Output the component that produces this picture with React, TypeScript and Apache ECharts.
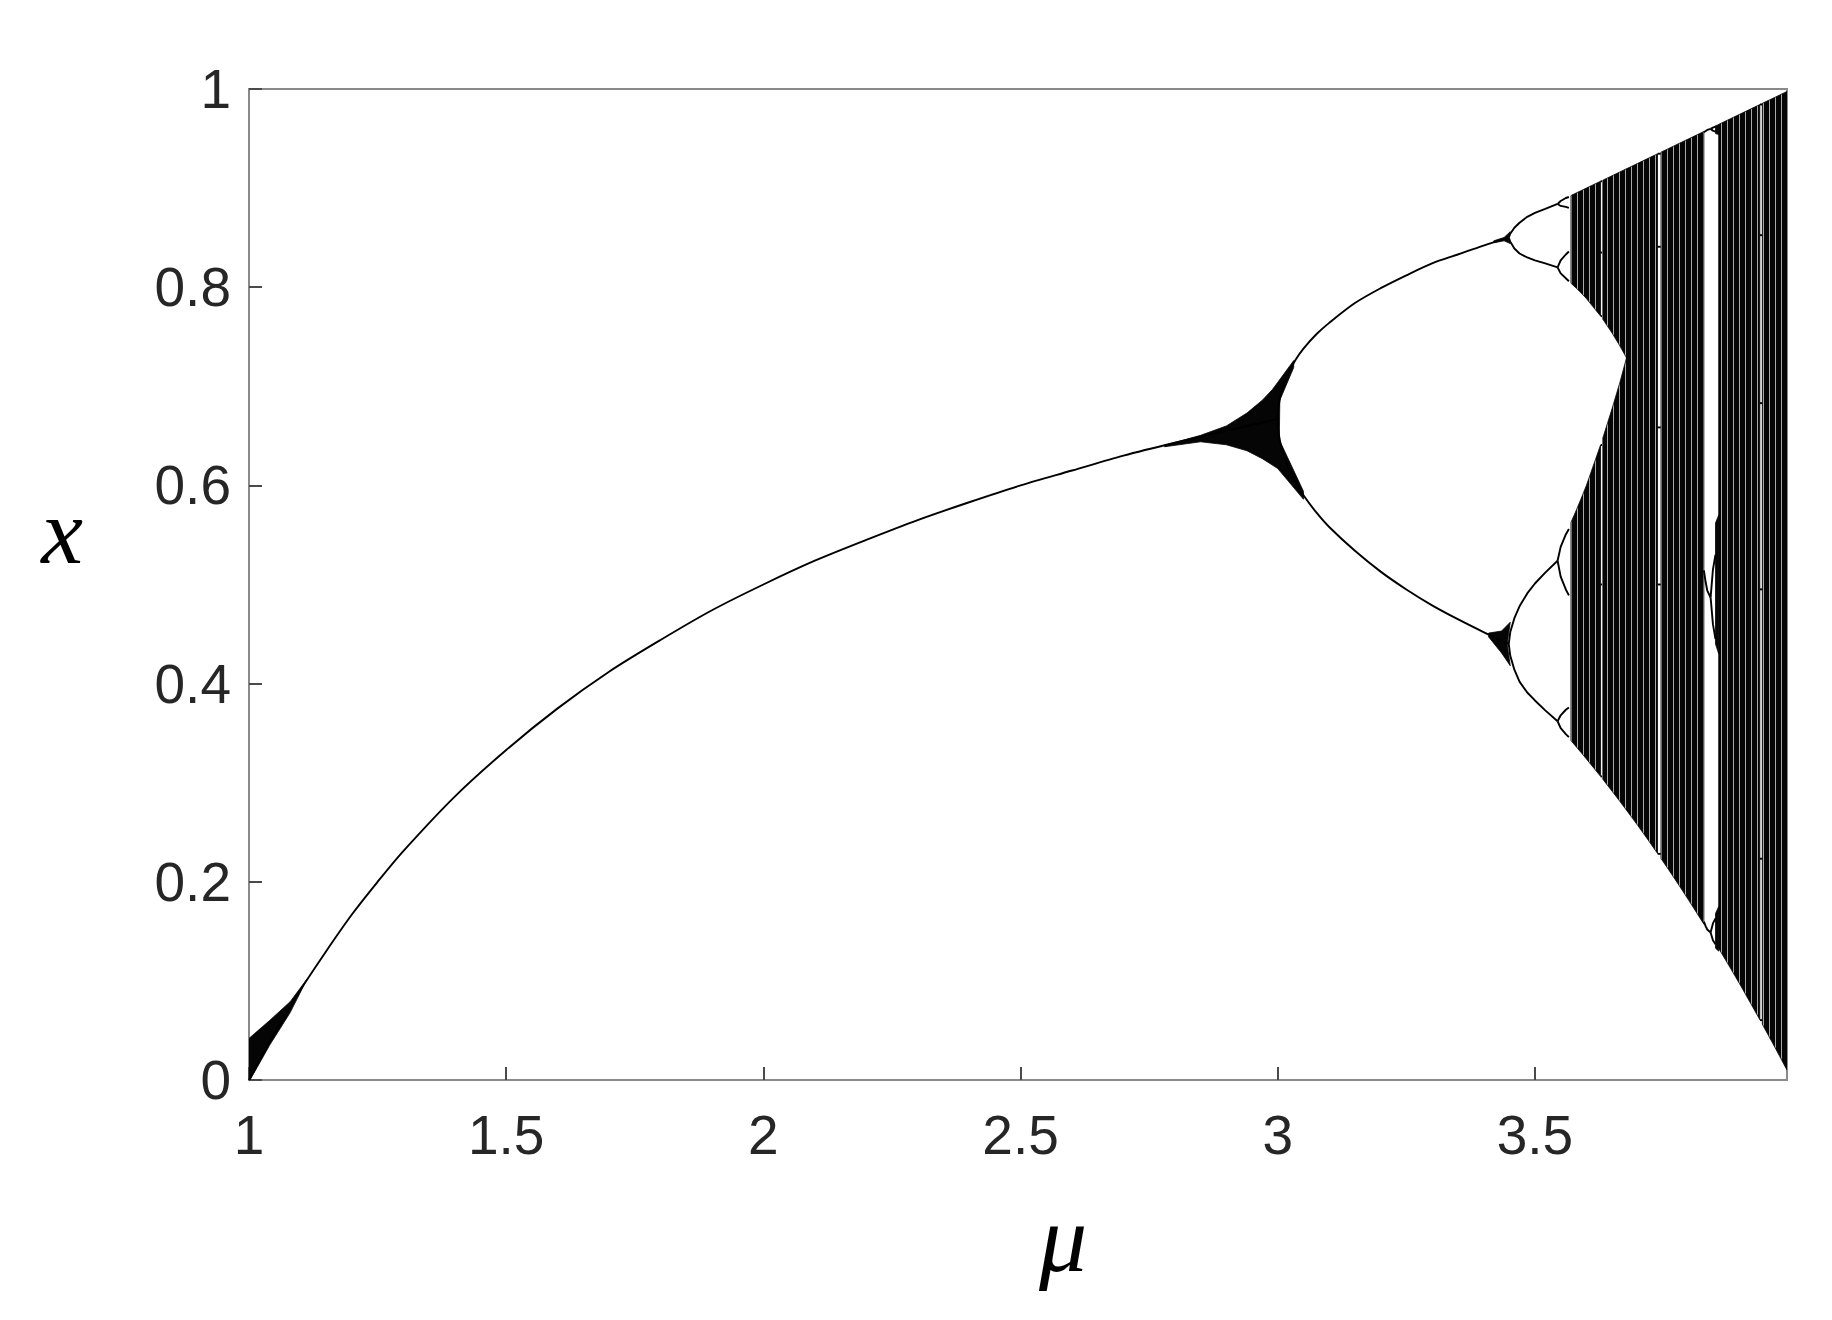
import React, { useEffect, useRef } from "react";
import * as echarts from "echarts";

type P = [number, number];

// ---- stable fixed point (period 1) ----
const period1Mu = [1.0, 1.025, 1.05, 1.075, 1.1, 1.15, 1.2, 1.25, 1.3, 1.4, 1.5, 1.6, 1.7, 1.8, 1.9, 2.0, 2.1, 2.2, 2.3, 2.4, 2.5, 2.6, 2.7, 2.8, 2.9, 3.0];
const period1X = [0, 0.024, 0.048, 0.07, 0.091, 0.13, 0.167, 0.2, 0.231, 0.286, 0.333, 0.375, 0.412, 0.444, 0.474, 0.5, 0.524, 0.545, 0.565, 0.583, 0.6, 0.615, 0.63, 0.643, 0.655, 0.667];

// ---- period 2 ----
const period2Mu = [3.0, 3.001, 3.005, 3.01, 3.02, 3.035, 3.05, 3.075, 3.1, 3.15, 3.2, 3.25, 3.3, 3.35, 3.4, 3.449];
const period2Upper = [0.667, 0.677, 0.69, 0.699, 0.7125, 0.727, 0.738, 0.7525, 0.764, 0.784, 0.799, 0.812, 0.824, 0.833, 0.842, 0.85];
const period2Lower = [0.667, 0.656, 0.643, 0.633, 0.6186, 0.603, 0.59, 0.5727, 0.558, 0.534, 0.513, 0.495, 0.479, 0.465, 0.452, 0.44];

// ---- period 4 ----
const period4Mu = [3.449, 3.452, 3.46, 3.47, 3.485, 3.5, 3.52, 3.544];
const period4Branches = [
  [0.85, 0.854, 0.86, 0.865, 0.871, 0.875, 0.879, 0.884],
  [0.85, 0.846, 0.839, 0.834, 0.83, 0.827, 0.824, 0.82],
  [0.44, 0.452, 0.466, 0.478, 0.491, 0.501, 0.512, 0.524],
  [0.44, 0.428, 0.414, 0.402, 0.391, 0.383, 0.373, 0.362],
];

// ---- period 8 ----
const period8Mu = [3.544, 3.55, 3.56, 3.566];
const period8Branches = [
  [0.884, 0.887, 0.89, 0.891],
  [0.884, 0.882, 0.881, 0.88],
  [0.82, 0.827, 0.833, 0.836],
  [0.82, 0.814, 0.809, 0.806],
  [0.524, 0.538, 0.5505, 0.556],
  [0.524, 0.508, 0.495, 0.489],
  [0.362, 0.368, 0.3736, 0.376],
  [0.362, 0.355, 0.349, 0.346],
];

// ---- slow-convergence wedges (outlines) ----
const wedgeNearOne: P[] = [[1.0, 0.0], [1.0, 0.042], [1.04, 0.06], [1.08, 0.079], [1.113, 0.102], [1.08, 0.068], [1.04, 0.035], [1.002, 0.0]];
const wedgeNearThree: P[] = [
  [2.78, 0.6405], [2.85, 0.6505], [2.9, 0.66], [2.94, 0.673], [2.97, 0.686], [2.99, 0.697], [3.0, 0.704], [3.031, 0.726],
  [3.031, 0.719], [3.004, 0.686], [3.003, 0.646], [3.05, 0.594],
  [3.05, 0.586], [3.0, 0.617], [2.97, 0.627], [2.94, 0.635], [2.9, 0.641], [2.85, 0.644], [2.78, 0.639],
];
const wedgeNearP4Low: P[] = [[3.41, 0.451], [3.435, 0.453], [3.452, 0.462], [3.446, 0.44], [3.452, 0.418], [3.435, 0.431], [3.41, 0.447]];
const wedgeNearP4High: P[] = [[3.42, 0.8468], [3.44, 0.8502], [3.452, 0.856], [3.447, 0.85], [3.452, 0.844], [3.44, 0.8468], [3.42, 0.8448]];

// ---- chaotic region, two-band part ----
const twoBandMu = [3.57, 3.58, 3.59, 3.6, 3.6275, 3.632, 3.65, 3.665, 3.678];
const twoBandTop = [0.8925, 0.895, 0.8975, 0.9, 0.9069, 0.908, 0.9125, 0.9163, 0.9195];
const twoBandUpperBottom = [0.804, 0.7992, 0.7941, 0.7885, 0.7709, 0.7676, 0.7537, 0.7408, 0.7287];
const twoBandLowerTop = [0.5626, 0.5745, 0.587, 0.6, 0.6407, 0.6479, 0.6776, 0.7037, 0.7287];
const twoBandLowerBottom = [0.3425, 0.3364, 0.3303, 0.324, 0.3064, 0.3034, 0.2914, 0.2812, 0.2722];

// ---- chaotic region, one band ----
const oneBandMu = [3.678, 3.69, 3.7, 3.72, 3.7383, 3.745, 3.76, 3.78, 3.8, 3.8284, 3.8572, 3.88, 3.9, 3.92, 3.9372, 3.942, 3.96, 3.975, 3.99];
const oneBandTop = [0.9195, 0.9225, 0.925, 0.93, 0.9346, 0.9363, 0.94, 0.945, 0.95, 0.9571, 0.9643, 0.97, 0.975, 0.98, 0.9843, 0.9855, 0.99, 0.99375, 0.9975];
const oneBandBottom = [0.2722, 0.2638, 0.2567, 0.2422, 0.2286, 0.2235, 0.2121, 0.1965, 0.1805, 0.1572, 0.1328, 0.1129, 0.0951, 0.0768, 0.0608, 0.0563, 0.0392, 0.0247, 0.00995];

// ---- periodic windows (white gaps) ----
const windowRanges: P[] = [[3.6275, 3.632], [3.7383, 3.745], [3.8284, 3.8572], [3.9372, 3.942]];

// ---- periodic orbits inside windows ----
const period3Mu = [3.8284, 3.832, 3.835, 3.8415];
const period3Branches = [
  [0.9563, 0.9576, 0.9587, 0.9597],
  [0.5143, 0.502, 0.4939, 0.4869],
  [0.1599, 0.155, 0.1519, 0.1489],
];
const period6InWindowMu = [3.8415, 3.846, 3.851];
const period6InWindowBranches = [
  [0.9597, 0.961, 0.962], [0.9597, 0.958, 0.957],
  [0.4869, 0.515, 0.53], [0.4869, 0.46, 0.445],
  [0.1489, 0.158, 0.163], [0.1489, 0.141, 0.137],
];
const window3BandsMu = [3.851, 3.8572];
const window3BandTop = [[0.963, 0.964], [0.562, 0.57], [0.168, 0.175]];
const window3BandBottom = [[0.955, 0.954], [0.44, 0.43], [0.133, 0.13]];

const period5Mu = [3.7385, 3.7445];
const period5Values = [0.9347, 0.8408, 0.6585, 0.5, 0.2282];
const period6aMu = [3.6277, 3.6304];
const period6aValues = [0.9069, 0.835, 0.7708, 0.6408, 0.5, 0.3063];
const period6bMu = [3.9374, 3.9418];
const period6bValues = [0.9844, 0.8525, 0.683, 0.4951, 0.2233, 0.0604];

// ---- axis ticks ----
const xTicks = { min: 1, max: 3.99, interval: 0.5 };
const yTicks = { min: 0, max: 1, interval: 0.2 };

function bandPolygons(mu: number[], top: number[], bottom: number[], gaps: P[]): P[][] {
  const inGap = (a: number, b: number) => gaps.some(([s, e]) => a >= s - 1e-9 && b <= e + 1e-9);
  const runs: number[][] = [];
  let run: number[] = [];
  for (let i = 0; i < mu.length - 1; i++) {
    if (!inGap(mu[i], mu[i + 1])) {
      if (run.length === 0) run.push(i);
      run.push(i + 1);
    } else if (run.length) {
      runs.push(run);
      run = [];
    }
  }
  if (run.length) runs.push(run);
  return runs.map((r) => [
    ...r.map((i) => [mu[i], top[i]] as P),
    ...r.slice().reverse().map((i) => [mu[i], bottom[i]] as P),
  ]);
}

function stripePattern(): any {
  const c = document.createElement("canvas");
  c.width = 6;
  c.height = 4;
  const g = c.getContext("2d");
  if (!g) return "#060606";
  g.fillStyle = "#050505";
  g.fillRect(0, 0, 6, 4);
  g.fillStyle = "#a8a8a8";
  g.fillRect(5, 0, 1, 4);
  return { image: c, repeat: "repeat" };
}

export default function App() {
  const ref = useRef<HTMLDivElement>(null);
  useEffect(() => {
    if (!ref.current) return;
    document.body.style.margin = "0";
    const chart = echarts.init(ref.current, undefined, { renderer: "svg" });

    const solid: P[][] = [wedgeNearOne, wedgeNearThree, wedgeNearP4Low, wedgeNearP4High];
    window3BandTop.forEach((t, k) => {
      const b = window3BandBottom[k];
      solid.push([[window3BandsMu[0], t[0]], [window3BandsMu[1], t[1]], [window3BandsMu[1], b[1]], [window3BandsMu[0], b[0]]]);
    });
    const chaos: P[][] = [];
    chaos.push(...bandPolygons(twoBandMu, twoBandTop, twoBandUpperBottom, windowRanges));
    chaos.push(...bandPolygons(twoBandMu, twoBandLowerTop, twoBandLowerBottom, windowRanges));
    chaos.push(...bandPolygons(oneBandMu, oneBandTop, oneBandBottom, windowRanges));

    const smoothLines: P[][] = [
      period1Mu.map((m, i) => [m, period1X[i]] as P),
      period2Mu.map((m, i) => [m, period2Upper[i]] as P),
      period2Mu.map((m, i) => [m, period2Lower[i]] as P),
    ];
    const lines: P[][] = [];
    period4Branches.forEach((b) => lines.push(period4Mu.map((m, i) => [m, b[i]] as P)));
    period8Branches.forEach((b) => lines.push(period8Mu.map((m, i) => [m, b[i]] as P)));
    period3Branches.forEach((b) => lines.push(period3Mu.map((m, i) => [m, b[i]] as P)));
    period6InWindowBranches.forEach((b) => lines.push(period6InWindowMu.map((m, i) => [m, b[i]] as P)));
    period5Values.forEach((v) => lines.push(period5Mu.map((m) => [m, v] as P)));
    period6aValues.forEach((v) => lines.push(period6aMu.map((m) => [m, v] as P)));
    period6bValues.forEach((v) => lines.push(period6bMu.map((m) => [m, v] as P)));

    const axisColor = "#8a8a8a";
    const labelStyle = { fontSize: 55, color: "#262626", fontFamily: "'Liberation Sans', Arial, sans-serif" };
    const stripes = stripePattern();

    const polySeries = (polys: P[][], fill: any, z: number) => ({
      type: "custom",
      coordinateSystem: "cartesian2d",
      xAxisIndex: 0, yAxisIndex: 0,
      silent: true,
      clip: true,
      data: polys.map((p, i) => [p[0][0], p[0][1], i]),
      encode: { x: 0, y: 1 },
      renderItem: (params: any, api: any) => {
        const k = api.value(2) as number;
        const pts = polys[k].map((p) => api.coord(p));
        return { type: "polygon", shape: { points: pts }, style: { fill, stroke: "#050505", lineWidth: 0.8 } };
      },
      z,
    });

    const lineSeries = (d: P[], smooth: number | boolean) => ({
      type: "line",
      xAxisIndex: 0, yAxisIndex: 0,
      data: d,
      showSymbol: false,
      silent: true,
      clip: true,
      smooth,
      lineStyle: { color: "#000", width: 1.9 },
      z: 4,
    });

    chart.setOption({
      animation: false,
      backgroundColor: "#ffffff",
      grid: { left: 249, top: 89, width: 1538, height: 991, containLabel: false },
      xAxis: [
        {
          type: "value", ...xTicks,
          axisLine: { show: true, onZero: false, lineStyle: { color: axisColor, width: 2 } },
          axisTick: { show: true, inside: true, length: 13, lineStyle: { color: "#4a4a4a", width: 2 } },
          axisLabel: { ...labelStyle, margin: 27, showMaxLabel: false },
          splitLine: { show: false },
        },
        {
          type: "value", position: "top", ...xTicks,
          axisLine: { show: true, onZero: false, lineStyle: { color: axisColor, width: 2 } },
          axisTick: { show: false }, axisLabel: { show: false }, splitLine: { show: false },
        },
      ],
      yAxis: [
        {
          type: "value", ...yTicks,
          axisLine: { show: true, onZero: false, lineStyle: { color: axisColor, width: 2 } },
          axisTick: { show: true, inside: true, length: 13, lineStyle: { color: "#4a4a4a", width: 2 } },
          axisLabel: { ...labelStyle, margin: 18 },
          splitLine: { show: false },
        },
        {
          type: "value", position: "right", ...yTicks,
          axisLine: { show: true, onZero: false, lineStyle: { color: axisColor, width: 2 } },
          axisTick: { show: false }, axisLabel: { show: false }, splitLine: { show: false },
        },
      ],
      series: [
        polySeries(chaos, stripes, 3),
        polySeries(solid, "#050505", 3),
        ...smoothLines.map((d) => lineSeries(d, 0.3)),
        ...lines.map((d) => lineSeries(d, false)),
      ],
      graphic: [
        { type: "text", x: 62, y: 531, style: { text: "x", font: "italic 94px 'Liberation Serif'", fill: "#000", textAlign: "center", textVerticalAlign: "middle" } },
        { type: "text", x: 1063, y: 1238, style: { text: "μ", font: "italic 96px 'Liberation Serif'", fill: "#000", textAlign: "center", textVerticalAlign: "middle" } },
      ],
    });
    return () => chart.dispose();
  }, []);
  return <div ref={ref} style={{ position: "absolute", left: 0, top: 0, width: 1832, height: 1320 }} />;
}
